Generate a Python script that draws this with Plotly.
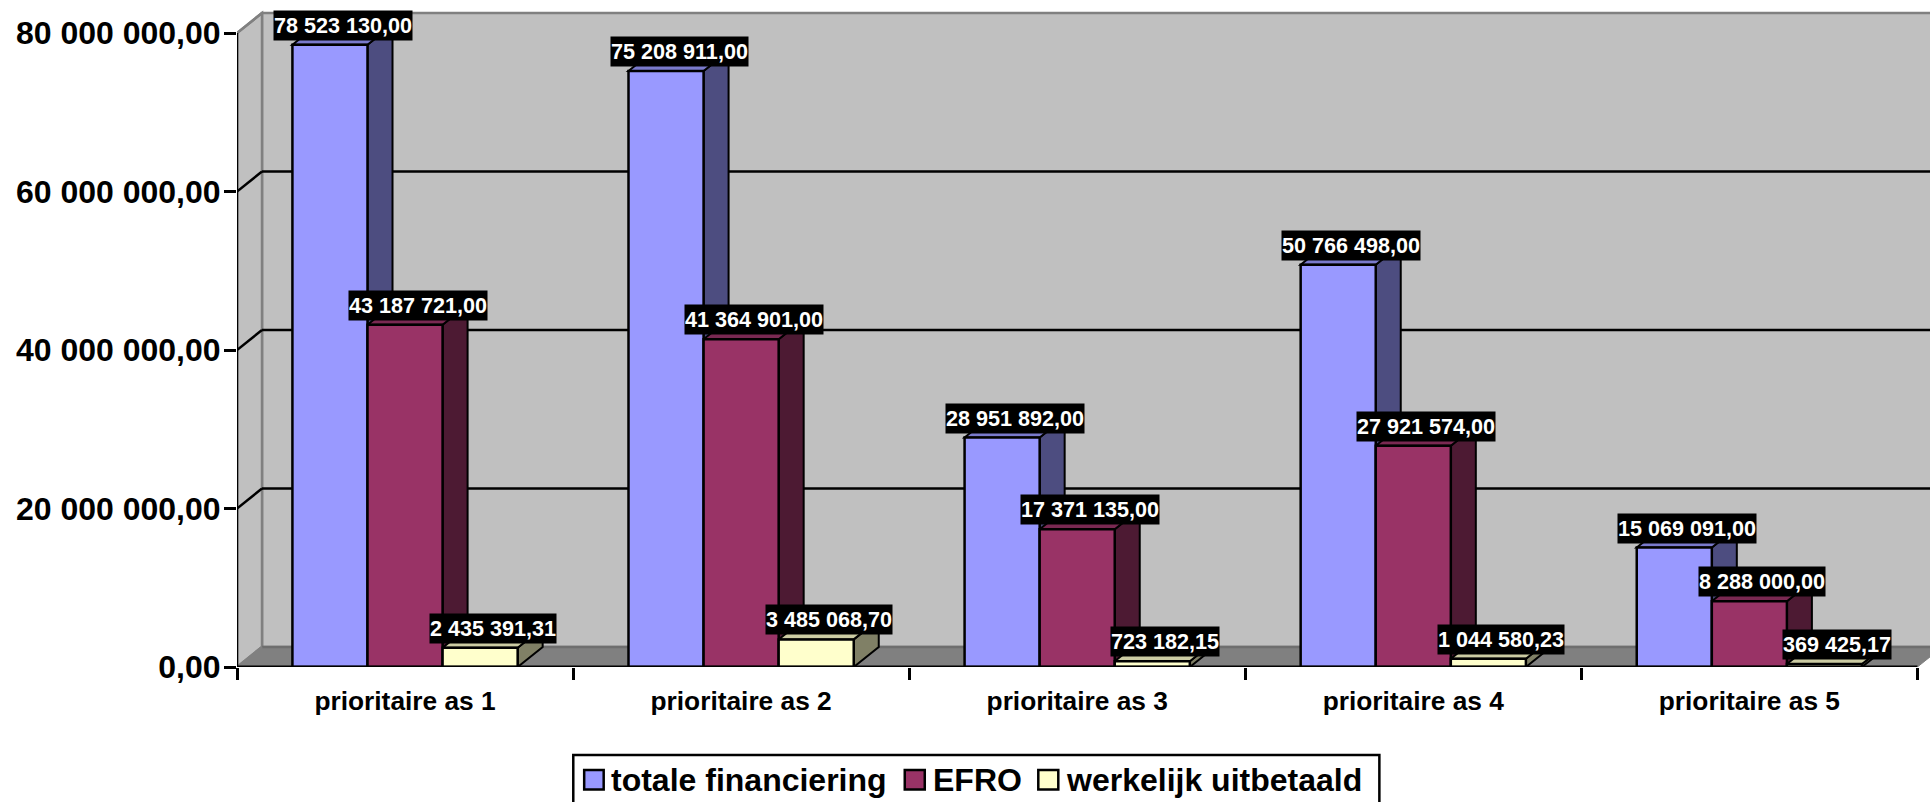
import plotly.graph_objects as go

categories = ["prioritaire as 1", "prioritaire as 2", "prioritaire as 3", "prioritaire as 4", "prioritaire as 5"]
totale_financiering = [78523130.00, 75208911.00, 28951892.00, 50766498.00, 15069091.00]
efro = [43187721.00, 41364901.00, 17371135.00, 27921574.00, 8288000.00]
werkelijk_uitbetaald = [2435391.31, 3485068.70, 723182.15, 1044580.23, 369425.17]
y_ticks = [0, 20000000, 40000000, 60000000, 80000000]
y_tick_labels = ["0,00", "20 000 000,00", "40 000 000,00", "60 000 000,00", "80 000 000,00"]

W, H = 1930, 802
L_PX, BASE_PX = 237.4, 667.0
CAT_PX = 336.0
PX_PER_UNIT = (667.0 - 33.0) / 80000000
X_MAX = (W - L_PX) / CAT_PX
Y_MAX = BASE_PX / PX_PER_UNIT
DX = 25.0 / CAT_PX
DY = 20.0 / PX_PER_UNIT
BAR_W = 0.2234
OFFSETS = [0.2766, 0.5, 0.7234]
FONT = "Liberation Sans, Arial, sans-serif"

series = [
    ("totale financiering", totale_financiering, "#9999FF", "#4D4D80", "#7A7ACC"),
    ("EFRO", efro, "#993366", "#4D1A33", "#7A2952"),
    ("werkelijk uitbetaald", werkelijk_uitbetaald, "#FFFFCC", "#808066", "#CCCCA3"),
]
# legend layout in page pixels: symbol left, symbol right, text left
legend_slots = [(584.5, 604, 610.5), (905, 925, 932), (1038.5, 1058.5, 1065)]


def px_x(p):
    return (p - L_PX) / (W - L_PX)


def px_y(p):
    return (BASE_PX - p) / BASE_PX


def poly(points, fill, line="#000000", width=2):
    path = "M " + " L ".join(f"{x},{y}" for x, y in points) + " Z"
    return dict(type="path", path=path, xref="x", yref="y", layer="below",
                fillcolor=fill, line=dict(color=line, width=width))


def seg(x0, y0, x1, y1, color="#000000", width=2.5, layer="below"):
    return dict(type="line", x0=x0, y0=y0, x1=x1, y1=y1, xref="x", yref="y",
                layer=layer, line=dict(color=color, width=width))


def fmt(v):
    return f"{v:,.2f}".replace(",", " ").replace(".", ",")


top = y_ticks[-1]
shapes = [
    poly([(DX, DY), (X_MAX + 0.1, DY), (X_MAX + 0.1, top + DY), (DX, top + DY)], "#C0C0C0", "#808080", 2.5),
    poly([(0, 0), (DX, DY), (DX, top + DY), (0, top)], "#C0C0C0", "#808080", 2.5),
    poly([(0, 0), (5, 0), (5 + DX, DY), (DX, DY)], "#808080", "#808080", 1),
    seg(DX, DY, X_MAX + 0.1, DY, "#6E6E6E", 2.5),
]
for t in y_ticks[1:-1]:
    shapes.append(seg(0, t, DX, t + DY))
    shapes.append(seg(DX, t + DY, X_MAX + 0.1, t + DY))
shapes.append(seg(0, top, DX, top + DY, "#808080"))
shapes.append(seg(0, 0, DX, DY, "#808080"))
shapes.append(seg(0, 0, 0, top))

annotations = []
traces = []
for off, (name, vals, front, side, topc) in zip(OFFSETS, series):
    xs = [i + off for i in range(len(categories))]
    for x, v in zip(xs, vals):
        l, r = x - BAR_W / 2, x + BAR_W / 2
        shapes.append(poly([(r, 0), (r + DX, DY), (r + DX, v + DY), (r, v)], side))
        shapes.append(poly([(l, v), (r, v), (r + DX, v + DY), (l + DX, v + DY)], topc))
        annotations.append(dict(
            x=x + DX / 2, y=v, xref="x", yref="y", text=fmt(v), showarrow=False,
            yshift=19.5, xshift=0.5, bgcolor="#000000", height=29, borderpad=0,
            font=dict(family=FONT, size=21.6, color="#FFFFFF", weight="bold"),
        ))
    traces.append(go.Bar(
        x=xs, y=vals, name=name, width=BAR_W, showlegend=False,
        marker=dict(color=front, line=dict(color="#000000", width=2.5)),
    ))

# legend box (runs off the bottom of the page, as in the reference)
legend_shapes = [dict(type="rect", xref="paper", yref="paper", layer="above",
                      x0=px_x(573.6), x1=px_x(1379.5), y0=px_y(815), y1=px_y(755),
                      fillcolor="#FFFFFF", line=dict(color="#000000", width=2.5))]
for (s0, s1, tx), (name, _, front, _, _) in zip(legend_slots, series):
    legend_shapes.append(dict(type="rect", xref="paper", yref="paper", layer="above",
                              x0=px_x(s0), x1=px_x(s1), y0=px_y(789.5), y1=px_y(770),
                              fillcolor=front, line=dict(color="#000000", width=2.5)))
    annotations.append(dict(x=px_x(tx), y=px_y(780), xref="paper", yref="paper", text=name,
                            showarrow=False, xanchor="left", yanchor="middle", borderpad=0,
                            font=dict(family=FONT, size=32, weight="bold", color="#000000")))

fig = go.Figure(traces)
shapes_top = [seg(0, 0, 5, 0, width=3, layer="above")]
fig.update_layout(
    width=W, height=H, barmode="overlay", plot_bgcolor="#FFFFFF", paper_bgcolor="#FFFFFF",
    margin=dict(l=L_PX, r=0, t=0, b=H - BASE_PX, pad=0, autoexpand=False),
    shapes=shapes + shapes_top + legend_shapes, annotations=annotations,
    font=dict(family=FONT, color="#000000"),
    showlegend=False,
    xaxis=dict(
        range=[0, X_MAX], showgrid=False, zeroline=False, showline=False,
        tickmode="array", tickvals=[i + 0.5 for i in range(len(categories))], ticktext=categories,
        ticks="", ticklabelstandoff=16,
        tickfont=dict(family=FONT, size=26.3, weight="bold", color="#000000"),
        minor=dict(tickmode="array", tickvals=list(range(len(categories) + 1)), ticks="outside",
                   ticklen=12, tickwidth=2.5, tickcolor="#000000", showgrid=False),
    ),
    yaxis=dict(
        range=[0, Y_MAX], showgrid=False, zeroline=False, showline=False,
        tickmode="array", tickvals=y_ticks, ticktext=y_tick_labels,
        ticks="outside", ticklen=12, tickwidth=2.5, tickcolor="#000000", ticklabelstandoff=-3,
        tickfont=dict(family=FONT, size=32, weight="bold", color="#000000"),
    ),
)
fig.write_html("out.html", config={"displayModeBar": False},
               post_script="document.body.style.margin='0';")
